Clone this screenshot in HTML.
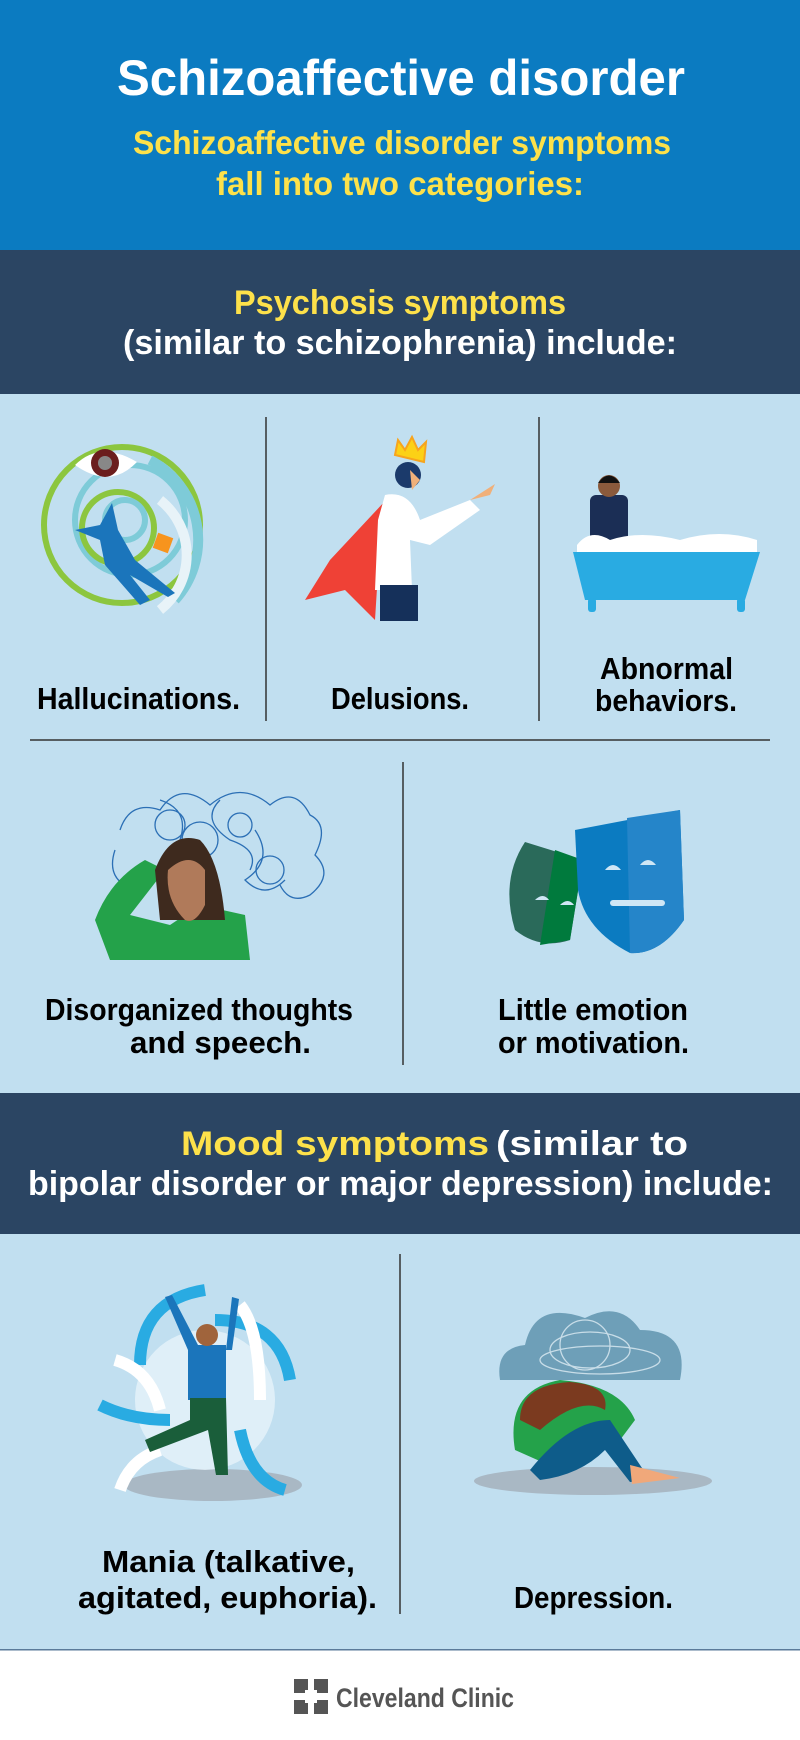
<!DOCTYPE html>
<html><head><meta charset="utf-8"><style>
html,body{margin:0;padding:0;width:800px;height:1740px;overflow:hidden;background:#fff}
svg{display:block}
text{font-family:"Liberation Sans Narrow","Liberation Sans",sans-serif;font-weight:bold}
</style></head><body>
<svg width="800" height="1740" viewBox="0 0 800 1740" xmlns="http://www.w3.org/2000/svg">
<rect x="0" y="0" width="800" height="250" fill="#0b7bc1"/>
<rect x="0" y="250" width="800" height="144" fill="#2b4563"/>
<rect x="0" y="394" width="800" height="699" fill="#c1dff0"/>
<rect x="0" y="1093" width="800" height="141" fill="#2b4563"/>
<rect x="0" y="1234" width="800" height="416" fill="#c1dff0"/>
<rect x="0" y="1649" width="800" height="1.5" fill="#5a7a9a"/>
<rect x="0" y="1651" width="800" height="89" fill="#fff"/>

<text x="117" y="95" font-size="50" fill="#fff" textLength="568" lengthAdjust="spacingAndGlyphs">Schizoaffective disorder</text>
<text x="133" y="154" font-size="33" fill="#fde14a" textLength="538" lengthAdjust="spacingAndGlyphs">Schizoaffective disorder symptoms</text>
<text x="216" y="195" font-size="33" fill="#fde14a" textLength="368" lengthAdjust="spacingAndGlyphs">fall into two categories:</text>
<text x="234" y="314" font-size="34" fill="#fde14a" textLength="332" lengthAdjust="spacingAndGlyphs">Psychosis symptoms</text>
<text x="123" y="354" font-size="34" fill="#fff" textLength="554" lengthAdjust="spacingAndGlyphs">(similar to schizophrenia) include:</text>

<g stroke="#333" stroke-width="1.5">
<line x1="266" y1="417" x2="266" y2="721"/><line x1="539" y1="417" x2="539" y2="721"/>
<line x1="30" y1="740" x2="770" y2="740"/><line x1="403" y1="762" x2="403" y2="1065"/>
<line x1="400" y1="1254" x2="400" y2="1614"/>
</g>

<g font-size="31" fill="#000">
<text x="37" y="709" textLength="203" lengthAdjust="spacingAndGlyphs">Hallucinations.</text>
<text x="331" y="709" textLength="138" lengthAdjust="spacingAndGlyphs">Delusions.</text>
<text x="600" y="679" textLength="133" lengthAdjust="spacingAndGlyphs">Abnormal</text>
<text x="595" y="711" textLength="142" lengthAdjust="spacingAndGlyphs">behaviors.</text>
<text x="45" y="1020" textLength="308" lengthAdjust="spacingAndGlyphs">Disorganized thoughts</text>
<text x="130" y="1053" textLength="181" lengthAdjust="spacingAndGlyphs">and speech.</text>
<text x="498" y="1020" textLength="190" lengthAdjust="spacingAndGlyphs">Little emotion</text>
<text x="498" y="1053" textLength="191" lengthAdjust="spacingAndGlyphs">or motivation.</text>
<text x="102" y="1572" textLength="253" lengthAdjust="spacingAndGlyphs">Mania (talkative,</text>
<text x="78" y="1608" textLength="299" lengthAdjust="spacingAndGlyphs">agitated, euphoria).</text>
<text x="514" y="1608" textLength="159" lengthAdjust="spacingAndGlyphs">Depression.</text>
</g>

<text x="181" y="1155" font-size="34" fill="#fde14a" textLength="308" lengthAdjust="spacingAndGlyphs">Mood symptoms</text>
<text x="496" y="1155" font-size="34" fill="#fff" textLength="192" lengthAdjust="spacingAndGlyphs">(similar to</text>
<text x="28" y="1195" font-size="34" fill="#fff" textLength="745" lengthAdjust="spacingAndGlyphs">bipolar disorder or major depression) include:</text>

<!-- Hallucinations -->
<g fill="none" stroke-width="6">
<circle cx="122" cy="525" r="78" stroke="#8cc63f"/>
<circle cx="130" cy="520" r="55" stroke="#7ecbd8"/>
<circle cx="118" cy="528" r="36" stroke="#8cc63f"/>
<circle cx="125" cy="520" r="20" stroke="#7ecbd8"/>
<path d="M150 460 A90 90 0 0 1 175 600" stroke="#7ecbd8" stroke-width="10"/>
<path d="M160 500 A70 70 0 0 1 160 610" stroke="#e8f3f8" stroke-width="10"/>
</g>
<path d="M75 465 Q100 440 137 462 Q110 490 75 465Z" fill="#fff"/>
<circle cx="105" cy="463" r="14" fill="#6b1e1e"/><circle cx="105" cy="463" r="7" fill="#888"/>
<rect x="155" y="535" width="16" height="16" fill="#f7941d" transform="rotate(20 163 543)"/>
<path d="M75 530 L100 525 L112 503 L118 530 L135 560 L175 593 L168 597 L130 575 L150 600 L140 605 L105 565 L100 540 Z" fill="#1b75bb"/>

<!-- Delusions -->
<path d="M386 500 L330 560 L305 600 L345 590 L375 620 L380 540Z" fill="#ef4136"/>
<path d="M385 495 Q410 490 420 520 L470 500 L480 510 L430 545 L410 540 L412 590 L375 590 L378 520Z" fill="#fff"/>
<rect x="380" y="585" width="38" height="36" fill="#15305a"/>
<circle cx="408" cy="475" r="13" fill="#1b3a6b"/><path d="M410 470 L420 480 L412 490Z" fill="#f0b07a"/>
<path d="M395 455 L398 440 L405 450 L412 437 L418 450 L426 442 L424 462Z" fill="#fcd116" stroke="#f7a41d" stroke-width="2"/>
<path d="M470 500 L495 484 L490 495Z" fill="#f0b07a"/>

<!-- Bathtub -->
<rect x="590" y="495" width="38" height="60" rx="6" fill="#1b2e55"/>
<circle cx="609" cy="486" r="11" fill="#8a5a3c"/><path d="M598 483 Q609 468 620 483Z" fill="#111"/>
<path d="M577 545 Q590 528 610 540 Q640 530 680 540 Q720 528 757 540 L757 552 L577 552Z" fill="#fff"/>
<path d="M573 552 L760 552 L745 600 L585 600Z" fill="#29abe2"/>
<rect x="588" y="598" width="8" height="14" rx="3" fill="#29abe2"/><rect x="737" y="598" width="8" height="14" rx="3" fill="#29abe2"/>

<!-- Disorganized -->
<g fill="none" stroke="#2b6fb5" stroke-width="1.3">
<path d="M120 830 q10 -30 40 -20 q20 -30 50 -5 q30 -25 60 0 q25 -20 40 10 q20 10 5 40 q20 20 -5 40 q-20 10 -30 -10"/>
<path d="M115 850 q-10 30 20 40 M160 800 q30 10 20 40 q-20 20 10 30 M220 800 q-20 20 10 40 q30 10 20 30 M255 830 q20 30 -10 50 q20 20 40 0"/>
<circle cx="170" cy="825" r="15"/><circle cx="200" cy="840" r="18"/><circle cx="240" cy="825" r="12"/><circle cx="270" cy="870" r="14"/>
</g>
<path d="M95 920 Q110 880 145 860 L165 870 L130 915 L170 925 L200 905 L245 915 L250 960 L110 960Z" fill="#24a24a"/>
<path d="M155 870 Q170 830 200 840 Q220 860 225 920 L160 920Z" fill="#3e2a1e"/>
<path d="M168 870 Q190 850 205 870 L205 905 Q195 925 185 920 Q165 900 168 870Z" fill="#b07a5a"/>

<!-- Masks -->
<path d="M525 842 L583 860 L570 940 Q540 950 515 930 Q500 880 525 842Z" fill="#2a6a5a"/>
<path d="M555 850 L583 860 L570 940 L540 945Z" fill="#007a3d"/>
<path d="M575 830 L680 810 L684 920 Q660 955 630 953 Q585 930 578 890Z" fill="#0b7bc1"/>
<path d="M627 818 L680 810 L684 920 Q660 955 630 953Z" fill="#2585c9"/>
<path d="M605 870 q8 -10 16 0Z M640 865 q8 -10 16 0Z" fill="#cfe6f5"/>
<rect x="610" y="900" width="55" height="6" rx="3" fill="#cfe6f5"/>
<path d="M535 900 q8 -8 14 0Z M560 905 q8 -8 14 0Z" fill="#cfe6f5"/>

<!-- Mania -->
<ellipse cx="213" cy="1485" rx="89" ry="16" fill="#a9b8c4"/>
<circle cx="205" cy="1400" r="70" fill="#e6f3fa" opacity="0.8"/>
<g fill="none" stroke="#29abe2" stroke-width="12">
<path d="M140 1365 Q140 1300 205 1290"/><path d="M215 1320 Q280 1320 290 1380"/>
<path d="M170 1420 Q130 1420 100 1405"/><path d="M240 1430 Q250 1480 285 1490"/>
</g>
<g fill="none" stroke="#fff" stroke-width="12">
<path d="M115 1360 Q150 1370 160 1410"/><path d="M240 1305 Q260 1330 260 1400"/><path d="M160 1450 Q130 1460 120 1490"/>
</g>
<rect x="188" y="1345" width="38" height="55" fill="#1b75bb"/>
<path d="M188 1350 L165 1297 L172 1295 L198 1345Z M226 1350 L232 1297 L239 1299 L232 1350Z" fill="#1b75bb"/>
<circle cx="207" cy="1335" r="11" fill="#a0643c"/>
<path d="M190 1398 L226 1398 L228 1475 L216 1475 L208 1430 L150 1452 L145 1440 L190 1420Z" fill="#1a5e3a"/>

<!-- Depression -->
<ellipse cx="593" cy="1481" rx="119" ry="14" fill="#a9b8c4"/>
<path d="M500 1380 Q495 1348 525 1345 Q535 1300 585 1318 Q620 1300 640 1330 Q690 1330 680 1380Z" fill="#6e9fb8"/>
<g fill="none" stroke="#c8dde8" stroke-width="1.3"><ellipse cx="590" cy="1350" rx="40" ry="18"/><ellipse cx="600" cy="1360" rx="60" ry="14"/><ellipse cx="585" cy="1345" rx="25" ry="25"/></g>
<path d="M515 1450 Q505 1390 560 1380 Q620 1385 635 1420 L620 1440 Q580 1450 560 1470Z" fill="#24a24a"/>
<path d="M520 1420 Q520 1385 570 1382 Q610 1385 605 1410 Q580 1395 540 1430Z" fill="#7b3a1f"/>
<path d="M530 1470 Q570 1420 610 1420 L650 1480 L630 1482 L605 1450 Q580 1475 540 1480Z" fill="#0e5c8a"/>
<path d="M630 1465 L680 1478 L632 1484Z" fill="#f0a87a"/>

<!-- Logo -->
<g fill="#555">
<rect x="294" y="1679" width="14" height="14"/><rect x="314" y="1679" width="14" height="14"/>
<rect x="294" y="1700" width="14" height="14"/><rect x="314" y="1700" width="14" height="14"/>
</g>
<rect x="305" y="1690" width="12" height="13" fill="#fff"/>
<text x="336" y="1707" font-size="27" fill="#555" textLength="178" lengthAdjust="spacingAndGlyphs">Cleveland Clinic</text>
</svg>
</body></html>
